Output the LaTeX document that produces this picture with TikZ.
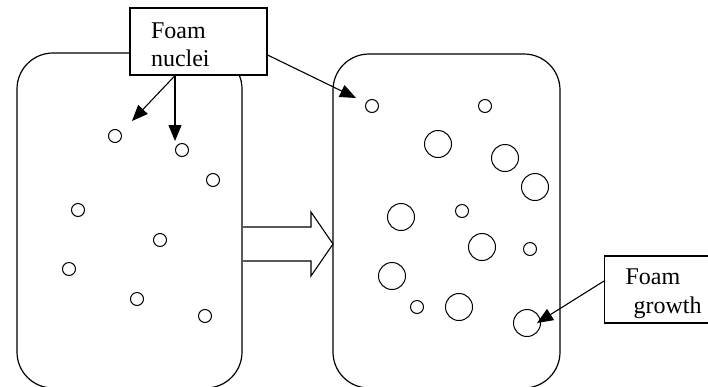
\documentclass[tikz,border=0pt]{standalone}
\usepackage{fontspec}
\setmainfont{Liberation Serif}
\usetikzlibrary{arrows.meta}
\begin{document}
\begin{tikzpicture}[x=1pt,y=-1pt,line width=1.2pt,
  vessel/.style={draw,rounded corners=36pt},
  bubble/.style={draw,line width=1pt},
  labelbox/.style={draw,fill=white,align=left,inner xsep=21pt,inner ysep=0pt,
    font=\fontsize{24}{28.5}\selectfont,text width=100pt},
  ptr/.style={-{Triangle[length=16pt,width=13pt]},line width=1.1pt}]
\useasboundingbox (0,0) rectangle (708,386);
% vessels
\draw[vessel] (17,53) rectangle (242,388);
\draw[vessel] (333,54) rectangle (560,388);
% block arrow
\draw[line width=1.1pt] (243,227) -- (311,227) -- (311,212) -- (333,244) -- (311,276) -- (311,261) -- (243,261);
% nuclei (left)
\foreach \p in {(115,136),(182,150),(213,180),(78,210),(160,240),(69,269),(137,299),(205,316)}
  \draw[bubble] \p circle[radius=6.5];
% right: small
\foreach \p in {(372,106),(485,106),(462,211),(530,249),(417,307)}
  \draw[bubble] \p circle[radius=6.5];
% right: large
\foreach \p in {(438,144),(505,158),(535,187),(401,217),(482,247),(392,276),(459,307),(527,323)}
  \draw[bubble] \p circle[radius=13.5];
% label boxes
\node[labelbox,minimum height=67pt,text width=95pt,text height=22pt] (nuc) at (198.5,41.5) {Foam\\nuclei};
\node[labelbox,minimum height=67pt,anchor=west,text height=24pt] (grow) at (604,289.5) {Foam\\\hspace*{8pt}growth};
% pointer coordinates
\coordinate (t1) at (132,121);
\coordinate (t2) at (175,141);
\coordinate (t3) at (356,98);
\coordinate (t4) at (537,323);
\draw[ptr] ([xshift=-23.5pt]nuc.south) -- (t1);
\draw[ptr] ([xshift=-23.5pt]nuc.south) -- (t2);
\draw[ptr] ([yshift=-13.5pt]nuc.east) -- (t3);
\draw[ptr] ([yshift=8.5pt]grow.west) -- (t4);
\end{tikzpicture}
\end{document}
